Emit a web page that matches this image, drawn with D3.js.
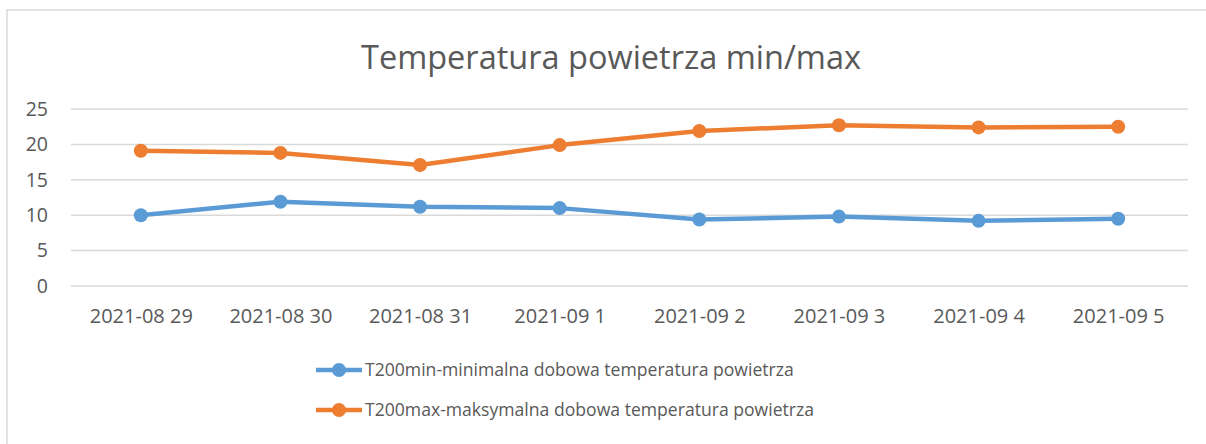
<!DOCTYPE html>
<meta charset="utf-8">
<style>
  body { margin: 0; background: #fff; }
  text { font-family: "Open Sans", sans-serif; fill: #595959; }
</style>
<svg width="1206" height="444"></svg>
<script src="https://d3js.org/d3.v7.min.js"></script>
<script>
  // values
  var days = ["2021-08 29", "2021-08 30", "2021-08 31", "2021-09 1", "2021-09 2", "2021-09 3", "2021-09 4", "2021-09 5"];
  var tMin = [10.0, 11.9, 11.2, 11.0, 9.4, 9.8, 9.2, 9.5];
  var tMax = [19.1, 18.8, 17.1, 19.9, 21.9, 22.7, 22.4, 22.5];
  var yTicks = [0, 5, 10, 15, 20, 25];
  var seriesNames = ["T200min-minimalna dobowa temperatura powietrza", "T200max-maksymalna dobowa temperatura powietrza"];
  var colors = ["#5b9bd5", "#ed7d31"];

  var svg = d3.select("svg");

  // chart frame (only top and left edges are inside the window)
  svg.append("rect")
    .attr("x", 7).attr("y", 10)
    .attr("width", 1220).attr("height", 460)
    .attr("fill", "none")
    .attr("stroke", "#d9d9d9")
    .attr("stroke-width", 1.5);

  svg.append("text")
    .attr("x", 611).attr("y", 69)
    .attr("text-anchor", "middle")
    .style("font-size", "32.5px")
    .text("Temperatura powietrza min/max");

  var x = d3.scalePoint().domain(days).range([71, 1188]).padding(0.5);
  var y = d3.scaleLinear().domain([0, 25]).range([286, 109]);

  var grid = svg.append("g");
  grid.selectAll("line").data(yTicks).join("line")
    .attr("x1", 71).attr("x2", 1188)
    .attr("y1", function(d) { return y(d); })
    .attr("y2", function(d) { return y(d); })
    .attr("stroke", "#d9d9d9")
    .attr("stroke-width", 1.5);

  var yAxis = d3.axisLeft(y).tickValues(yTicks).tickSize(0).tickPadding(0);
  svg.append("g")
    .attr("transform", "translate(48,0)")
    .call(yAxis)
    .call(function(g) { g.select(".domain").remove(); })
    .selectAll("text").style("font-size", "19.5px").attr("fill", "#595959");

  var xAxis = d3.axisBottom(x).tickSize(0).tickPadding(0);
  svg.append("g")
    .attr("transform", "translate(0,309)")
    .call(xAxis)
    .call(function(g) { g.select(".domain").remove(); })
    .selectAll("text").style("font-size", "20px").attr("fill", "#595959");

  var line = d3.line()
    .x(function(d, i) { return x(days[i]); })
    .y(function(d) { return y(d); });

  [tMin, tMax].forEach(function(vals, k) {
    svg.append("path")
      .datum(vals)
      .attr("d", line)
      .attr("fill", "none")
      .attr("stroke", colors[k])
      .attr("stroke-width", 4.5)
      .attr("stroke-linejoin", "round");
    svg.append("g").selectAll("circle").data(vals).join("circle")
      .attr("cx", function(d, i) { return x(days[i]); })
      .attr("cy", function(d) { return y(d); })
      .attr("r", 7)
      .attr("fill", colors[k]);
  });

  // legend
  var legend = svg.append("g").selectAll("g").data(seriesNames).join("g")
    .attr("transform", function(d, i) { return "translate(0," + (370 + i * 40) + ")"; });
  legend.append("line")
    .attr("x1", 316).attr("x2", 362)
    .attr("stroke", function(d, i) { return colors[i]; })
    .attr("stroke-width", 4.5);
  legend.append("circle")
    .attr("cx", 339).attr("r", 7)
    .attr("fill", function(d, i) { return colors[i]; });
  legend.append("text")
    .attr("x", 365).attr("dy", "0.35em")
    .style("font-size", "17.6px")
    .text(function(d) { return d; });
</script>
